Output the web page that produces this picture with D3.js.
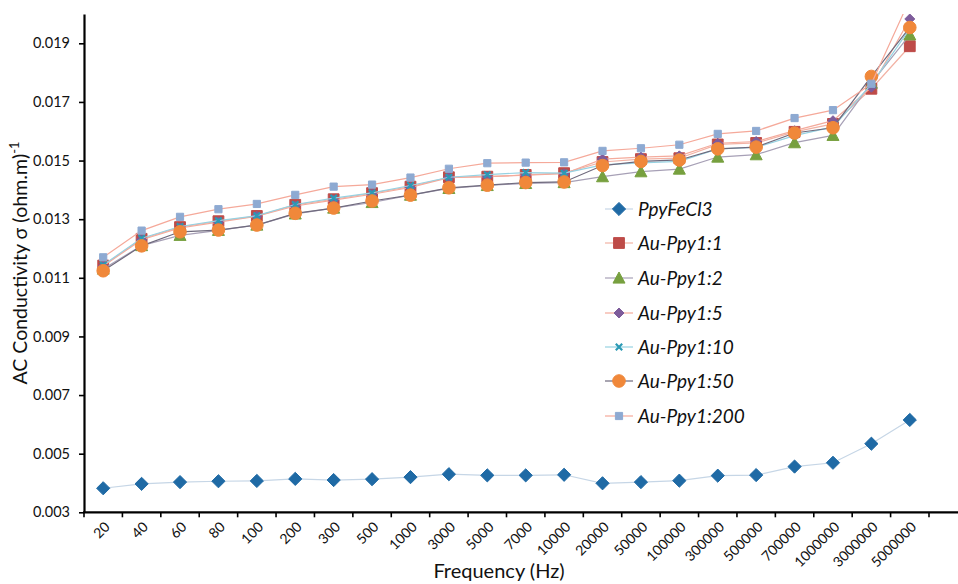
<!DOCTYPE html>
<html>
<head>
<meta charset="utf-8">
<script src="https://cdn.jsdelivr.net/npm/d3@7"></script>
<style>
  html, body { margin: 0; padding: 0; background: #fff; }
  svg { display: block; }
  text { font-family: Lato, "Open Sans", sans-serif; fill: #111; }
</style>
</head>
<body>
<svg id="chart" width="958" height="584"></svg>
<script>
// ---------- data ----------
const categories = ["20","40","60","80","100","200","300","500","1000","3000","5000","7000","10000","20000","50000","100000","300000","500000","700000","1000000","3000000","5000000"];
const yTicks = [0.003,0.005,0.007,0.009,0.011,0.013,0.015,0.017,0.019];

const ppyFeCl3 = [0.00382,0.00397,0.00403,0.00406,0.00407,0.00414,0.00410,0.00413,0.00420,0.00430,0.00426,0.00426,0.00428,0.00399,0.00403,0.00408,0.00425,0.00427,0.00456,0.00469,0.00534,0.00615];
const auPpy1_1 = [0.01142,0.01233,0.01273,0.01293,0.01311,0.01349,0.01368,0.01389,0.01411,0.01443,0.01445,0.01451,0.01457,0.01495,0.01505,0.01508,0.01555,0.01560,0.01598,0.01625,0.01745,0.01890];
const auPpy1_2 = [0.01130,0.01210,0.01245,0.01262,0.01280,0.01318,0.01338,0.01357,0.01382,0.01405,0.01415,0.01422,0.01425,0.01445,0.01462,0.01471,0.01512,0.01520,0.01561,0.01586,0.01764,0.01929];
const auPpy1_5 = [0.01140,0.01230,0.01270,0.01290,0.01310,0.01345,0.01365,0.01385,0.01408,0.01442,0.01445,0.01450,0.01455,0.01505,0.01512,0.01516,0.01559,0.01565,0.01602,0.01636,0.01750,0.01983];
const auPpy1_10 = [0.01144,0.01235,0.01275,0.01295,0.01312,0.01350,0.01372,0.01390,0.01415,0.01443,0.01452,0.01459,0.01457,0.01485,0.01492,0.01497,0.01540,0.01545,0.01585,0.01615,0.01760,0.01950];
const auPpy1_50 = [0.01124,0.01209,0.01257,0.01263,0.01280,0.01320,0.01338,0.01362,0.01382,0.01407,0.01416,0.01425,0.01427,0.01483,0.01497,0.01502,0.01540,0.01546,0.01594,0.01612,0.01787,0.01954];
const auPpy1_200 = [0.01170,0.01261,0.01308,0.01334,0.01352,0.01383,0.01411,0.01418,0.01442,0.01472,0.01491,0.01493,0.01494,0.01533,0.01542,0.01554,0.01591,0.01601,0.01645,0.01672,0.01762,0.02050];

const seriesNames = ["PpyFeCl3","Au-Ppy1:1","Au-Ppy1:2","Au-Ppy1:5","Au-Ppy1:10","Au-Ppy1:50","Au-Ppy1:200"];
const seriesValues = [ppyFeCl3, auPpy1_1, auPpy1_2, auPpy1_5, auPpy1_10, auPpy1_50, auPpy1_200];

// ---------- styles ----------
const styles = [
  {marker:"diamond", size:6.6, fill:"#1f6aa5", line:"#c6d6e6"},
  {marker:"square",  size:5.4, fill:"#be4b48", line:"#f2b2a4"},
  {marker:"triangle",size:6.0, fill:"#77a03f", line:"#a7a0b6"},
  {marker:"diamond", size:5.0, fill:"#7e5c9b", line:"#f4ab9c"},
  {marker:"x",       size:3.2, fill:"#2b9ab5", line:"#96d2e2"},
  {marker:"circle",  size:6.3, fill:"#f0883a", line:"#6f6a7d"},
  {marker:"square",  size:3.6, fill:"#8eaad2", line:"#f5a99a"}
];

function markerPath(type, s) {
  const p = d3.path();
  if (type === "diamond") { p.moveTo(0,-s); p.lineTo(s,0); p.lineTo(0,s); p.lineTo(-s,0); p.closePath(); }
  else if (type === "square") { p.rect(-s,-s,2*s,2*s); }
  else if (type === "triangle") { p.moveTo(0,-s); p.lineTo(s,s*0.85); p.lineTo(-s,s*0.85); p.closePath(); }
  else if (type === "circle") { p.arc(0,0,s,0,2*Math.PI); }
  else if (type === "x") { p.moveTo(-s,-s); p.lineTo(s,s); p.moveTo(s,-s); p.lineTo(-s,s); }
  return p.toString();
}

// ---------- layout ----------
const svg = d3.select("#chart");
const mLeft = 84, mRight = 929, mTop = 14, mBottom = 512.3;

const x = d3.scaleBand().domain(categories).range([mLeft, mRight]).paddingInner(0).paddingOuter(0);
const y = d3.scaleLinear().domain([0.003, 0.020]).range([mBottom, mTop]);
const cx = c => x(c) + x.bandwidth() / 2;

svg.append("defs").append("clipPath").attr("id","plotclip")
  .append("rect").attr("x", mLeft).attr("y", mTop).attr("width", 958 - mLeft).attr("height", mBottom - mTop + 8);

const plot = svg.append("g").attr("clip-path","url(#plotclip)");

seriesValues.forEach((vals, i) => {
  const st = styles[i];
  const data = categories.map((c, k) => ({c, v: vals[k]}));
  const line = d3.line().x(d => cx(d.c)).y(d => y(d.v));
  plot.append("path").datum(data)
    .attr("d", line).attr("fill","none")
    .attr("stroke", st.line).attr("stroke-width", 1.2);
  plot.selectAll(null).data(data).enter().append("path")
    .attr("transform", d => `translate(${cx(d.c)},${y(d.v)})`)
    .attr("d", markerPath(st.marker, st.size))
    .attr("fill", st.marker === "x" ? "none" : st.fill)
    .attr("stroke", st.fill)
    .attr("stroke-width", st.marker === "x" ? 2.2 : 1)
    .attr("stroke-linejoin","round");
});

// ---------- y axis ----------
const yAxis = d3.axisLeft(y).tickValues(yTicks).tickFormat(d3.format(".3f")).tickSize(5).tickSizeOuter(0).tickPadding(9);
const gy = svg.append("g").attr("transform", `translate(${mLeft},0)`).call(yAxis);
gy.select(".domain").attr("stroke","#000").attr("stroke-width",2.2);
gy.selectAll(".tick line").attr("stroke","#000").attr("stroke-width",1.6);
gy.selectAll(".tick text").style("font-size","14.5px").style("font-family","Lato, sans-serif").attr("fill","#111");

// ---------- x axis ----------
const gx = svg.append("g");
gx.append("line").attr("x1", mLeft - 1).attr("x2", 958).attr("y1", mBottom).attr("y2", mBottom)
  .attr("stroke","#000").attr("stroke-width",2.2);
const boundaries = categories.map(c => x(c)).concat([x(categories[categories.length-1]) + x.bandwidth()]);
gx.selectAll("line.tk").data(boundaries).enter().append("line").attr("class","tk")
  .attr("x1", d => d).attr("x2", d => d).attr("y1", mBottom).attr("y2", mBottom + 5)
  .attr("stroke","#000").attr("stroke-width",1.6);
gx.selectAll("text.lbl").data(categories).enter().append("text").attr("class","lbl")
  .attr("transform", d => `translate(${cx(d) + 4},${mBottom + 12}) rotate(-45)`)
  .attr("text-anchor","end")
  .attr("dy","0.35em")
  .style("font-size","14px")
  .text(d => d);

// ---------- axis titles ----------
svg.append("text").attr("x", 499).attr("y", 578).attr("text-anchor","middle")
  .style("font-size","20px").text("Frequency (Hz)");

const yt = svg.append("text").attr("transform","translate(27,263) rotate(-90)").attr("text-anchor","middle")
  .style("font-size","19.5px");
yt.append("tspan").text("AC Conductivity σ (ohm.m)");
yt.append("tspan").attr("dy","-8").style("font-size","13px").text("-1");

// ---------- legend ----------
const legendY = [209, 243, 278, 313, 347, 381, 416];
const lg = svg.append("g");
seriesNames.forEach((name, i) => {
  const st = styles[i];
  const yy = legendY[i];
  lg.append("line").attr("x1",605).attr("x2",633).attr("y1",yy).attr("y2",yy)
    .attr("stroke", st.line).attr("stroke-width",1.2);
  lg.append("path").attr("transform",`translate(619,${yy})`)
    .attr("d", markerPath(st.marker, st.size))
    .attr("fill", st.marker === "x" ? "none" : st.fill)
    .attr("stroke", st.fill).attr("stroke-width", st.marker === "x" ? 2.2 : 1);
  lg.append("text").attr("x",638).attr("y",yy + 7)
    .style("font-size","19px").style("font-style","italic").text(name);
});
</script>
</body>
</html>
